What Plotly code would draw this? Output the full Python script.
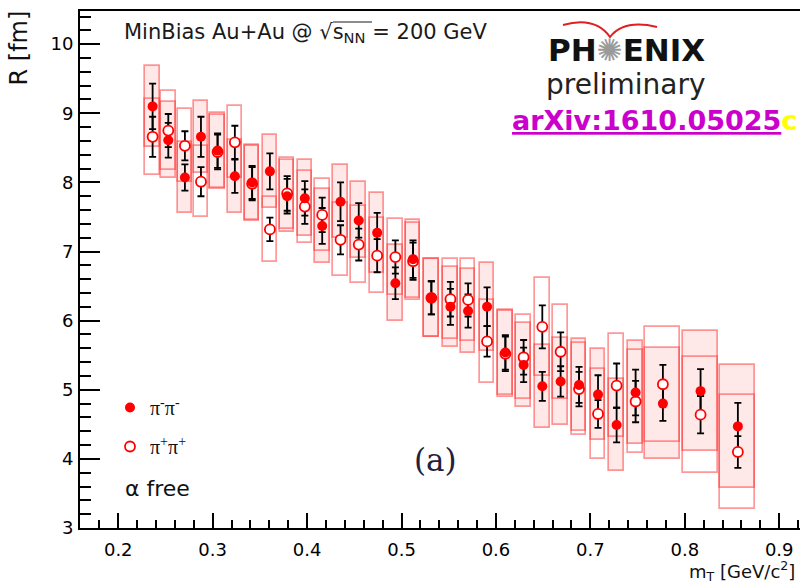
import plotly.graph_objects as go

# ---------------- data ----------------
mt = [0.2364, 0.2530, 0.2706, 0.2876, 0.3052, 0.3235, 0.3418, 0.3606, 0.3789, 0.3976,
      0.4160, 0.4354, 0.4547, 0.4742, 0.4935, 0.5122, 0.5316, 0.5518, 0.5705, 0.5906,
      0.6100, 0.6293, 0.6491, 0.6685, 0.6880, 0.7081, 0.7278, 0.7479, 0.7768, 0.8167, 0.8562]

r_minus = [9.10, 8.61, 8.07, 8.66, 8.46, 8.09, 8.00, 8.16, 7.80, 7.77,
           7.37, 7.72, 7.45, 7.27, 6.54, 6.89, 6.33, 6.20, 6.14, 6.20,
           5.54, 5.36, 5.05, 5.12, 5.07, 4.93, 4.49, 4.96, 4.80, 4.98, 4.47]
r_plus = [8.66, 8.75, 8.53, 8.01, 8.44, 8.58, 7.98, 7.32, 7.84, 7.65,
          7.53, 7.17, 7.10, 6.94, 6.92, 6.86, 6.33, 6.31, 6.30, 5.70,
          5.52, 5.47, 5.91, 5.55, 5.01, 4.65, 5.06, 4.83, 5.08, 4.64, 4.10]

stat_minus = [0.33, 0.25, 0.19, 0.29, 0.25, 0.24, 0.24, 0.26, 0.25, 0.25,
              0.26, 0.28, 0.25, 0.29, 0.23, 0.27, 0.24, 0.26, 0.24, 0.28,
              0.25, 0.25, 0.21, 0.22, 0.26, 0.28, 0.25, 0.33, 0.25, 0.32, 0.34]
stat_plus = [0.29, 0.24, 0.21, 0.21, 0.25, 0.24, 0.24, 0.17, 0.25, 0.25,
             0.25, 0.21, 0.23, 0.24, 0.24, 0.27, 0.24, 0.25, 0.24, 0.22,
             0.25, 0.25, 0.31, 0.28, 0.25, 0.20, 0.32, 0.30, 0.28, 0.27, 0.23]

sys_minus = [0.59, 0.55, 0.51, 0.52, 0.54, 0.53, 0.54, 0.53, 0.52, 0.55,
             0.54, 0.53, 0.55, 0.58, 0.55, 0.56, 0.56, 0.58, 0.61, 0.64,
             0.62, 0.61, 0.60, 0.63, 0.66, 0.66, 0.67, 0.75, 0.80, 0.87, 0.89]
sys_plus = [0.55, 0.57, 0.53, 0.51, 0.54, 0.52, 0.54, 0.47, 0.52, 0.52,
            0.52, 0.53, 0.56, 0.54, 0.55, 0.56, 0.56, 0.58, 0.59, 0.60,
            0.62, 0.61, 0.71, 0.68, 0.66, 0.65, 0.74, 0.75, 0.83, 0.84, 0.83]

label_minus = "π<sup>-</sup>π<sup>-</sup>"
label_plus = "π<sup>+</sup>π<sup>+</sup>"

# ---------------- style ----------------
W, H = 800, 584
L, R, T, B = 80, 0, 11, 56
PW, PH = W - L - R, H - T - B


def px(x):
    return (x - L) / PW


def py(y):
    return (H - B - y) / PH


box_w = [0.037 if x > 0.76 else 0.0155 for x in mt]
box_line = "rgba(255,50,50,0.5)"
box_fill = "rgba(255,0,0,0.09)"
red = "#ff0000"

fig = go.Figure()

# systematic boxes
fig.add_trace(go.Bar(x=mt, y=[2 * s for s in sys_minus],
                     base=[r - s for r, s in zip(r_minus, sys_minus)],
                     width=box_w, marker=dict(color=box_fill, line=dict(color=box_line, width=1.7)),
                     showlegend=False, hoverinfo="skip"))
fig.add_trace(go.Bar(x=mt, y=[2 * s for s in sys_plus],
                     base=[r - s for r, s in zip(r_plus, sys_plus)],
                     width=box_w, marker=dict(color="rgba(0,0,0,0)", line=dict(color=box_line, width=1.7)),
                     showlegend=False, hoverinfo="skip"))

# statistical error bars
for ys, es in ((r_plus, stat_plus), (r_minus, stat_minus)):
    fig.add_trace(go.Scatter(x=mt, y=ys, mode="markers",
                             marker=dict(size=1, color="rgba(0,0,0,0)"),
                             error_y=dict(type="data", array=es, color="black", thickness=1.8, width=3.5),
                             showlegend=False, hoverinfo="skip"))

# markers
fig.add_trace(go.Scatter(x=mt, y=r_plus, mode="markers", name=label_plus,
                         legendgroup="p", legendrank=2,
                         marker=dict(symbol="circle", size=10, color="white", line=dict(color=red, width=1.8))))
fig.add_trace(go.Scatter(x=mt, y=r_minus, mode="markers", name=label_minus,
                         legendgroup="m", legendrank=1,
                         marker=dict(symbol="circle", size=10, color=red, line=dict(width=0))))

font_sans = "DejaVu Sans"

annotations = [
    dict(x=px(122), y=py(33), xref="paper", yref="paper", xanchor="left", yanchor="middle",
         text="MinBias Au+Au @ √s<sub>NN</sub> = 200 GeV", showarrow=False,
         font=dict(family=font_sans, size=21, color="#1a1a1a")),
    dict(x=px(626), y=py(50), xref="paper", yref="paper", xanchor="center", yanchor="middle",
         text="<b>PH<span style='color:#9a9a9a'>✺</span>ENIX</b>", showarrow=False,
         font=dict(family=font_sans, size=31, color="#111111")),
    dict(x=px(626), y=py(84), xref="paper", yref="paper", xanchor="center", yanchor="middle",
         text="preliminary", showarrow=False,
         font=dict(family=font_sans, size=28, color="#222222")),
    dict(x=px(510), y=py(120), xref="paper", yref="paper", xanchor="left", yanchor="middle",
         text="<b><u>arXiv:1610.05025</u><span style='color:#ffff00'>c</span></b>", showarrow=False,
         font=dict(family=font_sans, size=27, color="#cc00cc")),
    dict(x=px(435), y=py(460), xref="paper", yref="paper", xanchor="center", yanchor="middle",
         text="(a)", showarrow=False,
         font=dict(family="DejaVu Serif", size=31, color="#202040")),
    dict(x=px(123), y=py(488), xref="paper", yref="paper", xanchor="left", yanchor="middle",
         text="α free", showarrow=False,
         font=dict(family=font_sans, size=22, color="#111111")),
    dict(x=px(19), y=py(9), xref="paper", yref="paper", xanchor="center", yanchor="top",
         text="R [fm]", textangle=-90, showarrow=False,
         font=dict(family=font_sans, size=24, color="#111111")),
    dict(x=px(797), y=py(571), xref="paper", yref="paper", xanchor="right", yanchor="middle",
         text="m<sub>T</sub> [GeV/c<sup>2</sup>]", showarrow=False,
         font=dict(family=font_sans, size=18, color="#111111")),
]

shapes = [
    dict(type="path", xref="paper", yref="paper",
         path=f"M {px(563)},{py(25)} Q {px(595)},{py(16)} {px(610)},{py(37)} Q {px(624)},{py(19)} {px(657)},{py(27)}",
         line=dict(color="#e02020", width=2)),
    dict(type="line", xref="paper", yref="paper", x0=px(333), x1=px(372), y0=py(22), y1=py(22),
         line=dict(color="#1a1a1a", width=1.2)),
]

axis_common = dict(showgrid=False, zeroline=False, showline=True, linecolor="black", linewidth=2,
                   ticks="inside", tickcolor="black", tickwidth=1.5,
                   tickfont=dict(family=font_sans, size=18, color="black"))

fig.update_layout(
    width=W, height=H, margin=dict(l=L, r=R, t=T, b=B),
    paper_bgcolor="white", plot_bgcolor="white",
    barmode="overlay", bargap=0,
    showlegend=True,
    legend=dict(x=px(110), y=py(388), xanchor="left", yanchor="top", bgcolor="rgba(0,0,0,0)",
                traceorder="grouped", tracegroupgap=10,
                font=dict(family="Liberation Serif", size=20, color="#111111")),
    xaxis=dict(range=[0.1595, 0.922], tick0=0.2, dtick=0.1, tickformat=".1f", ticklen=15,
               mirror=True, ticklabelstandoff=4,
               minor=dict(dtick=0.02, tick0=0.2, ticks="inside", ticklen=8, tickcolor="black", tickwidth=1.5),
               **axis_common),
    yaxis=dict(range=[3, 10.48], tick0=3, dtick=1, ticklen=20, mirror=False, ticklabelstandoff=1,
               minor=dict(dtick=0.2, tick0=3, ticks="inside", ticklen=11, tickcolor="black", tickwidth=1.5),
               **axis_common),
    annotations=annotations, shapes=shapes,
)

fig.write_html("out.html")
